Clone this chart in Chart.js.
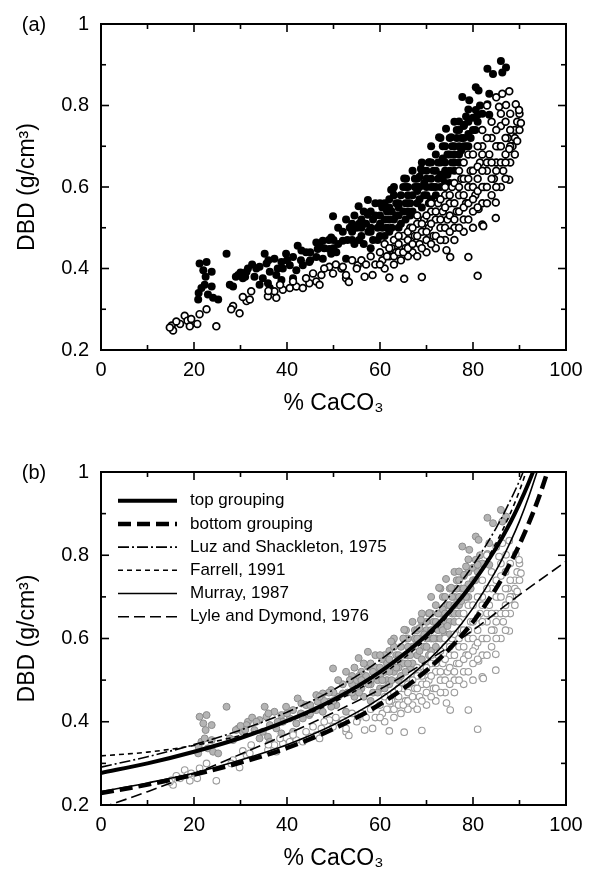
<!DOCTYPE html>
<html>
<head>
<meta charset="utf-8">
<script src="https://cdn.jsdelivr.net/npm/chart.js@4.4.0/dist/chart.umd.min.js"></script>
<style>
  body { margin: 0; background: #fff; }
  #wrap { position: relative; width: 594px; height: 875px; }
  canvas { position: absolute; left: 0; }
</style>
</head>
<body>
<div id="wrap">
  <canvas id="chartA" width="594" height="440" style="top:0"></canvas>
  <canvas id="chartB" width="594" height="435" style="top:440px"></canvas>
</div>
<script>
const fontFamily = '"Liberation Sans", Arial, Helvetica, sans-serif';

// axis ticks
const xTicks = [0, 20, 40, 60, 80, 100];
const xMinor = [10, 30, 50, 70, 90];
const yTicks = [0.2, 0.4, 0.6, 0.8, 1];
const yMinor = [0.3, 0.5, 0.7, 0.9];

// top grouping (filled symbols), [%CaCO3, DBD]
const topGroup = [
  [21.2,0.412],[22.7,0.416],[22.0,0.396],[23.8,0.392],[21.6,0.352],[22.3,0.36],[23.8,0.356],[20.9,0.324],
  [23.0,0.336],[24.1,0.328],[25.2,0.324],[22.5,0.38],[21.0,0.34],
  [27.0,0.436],[27.7,0.36],[28.4,0.356],[29.5,0.384],[30.5,0.376],[31.6,0.4],[31.3,0.392],[29,0.38],[32.5,0.41],
  [35.2,0.436],[34.1,0.404],[35.6,0.412],[36.3,0.392],[37.3,0.424],[38.8,0.416],[39.8,0.436],[41.3,0.428],
  [42.3,0.456],[43.1,0.444],[44.1,0.44],[46.3,0.464],[46.6,0.448],[47.7,0.468],[49.5,0.476],[49.9,0.528],
  [49.1,0.448],[50.6,0.44],[52,0.468],[52.7,0.424],[33.4,0.4],[34.8,0.376],[35.9,0.364],[37.7,0.384],
  [39.1,0.4],[40.6,0.408],[42,0.396],[43.4,0.408],[44.8,0.416],[46.3,0.428],[47.7,0.424],[49.5,0.436],
  [34.1,0.36],[36.3,0.352],[38.8,0.372],[41.3,0.376],
  [52.7,0.52],[55.4,0.553],[57.4,0.568],[57.4,0.532],[62.7,0.593],[65.6,0.62],[65.6,0.60],
  [53,0.47],[54,0.49],[54.5,0.46],[55,0.5],[56,0.48],[56.5,0.46],[57,0.51],[58,0.49],[58.5,0.47],[59,0.53],
  [59.5,0.5],[60,0.48],[60.5,0.55],[61,0.52],[61.5,0.5],[62,0.57],[62.5,0.54],[63,0.52],[63.5,0.56],[64,0.5],
  [64.5,0.58],[65,0.54],[65.5,0.56],[66,0.6],[66.5,0.53],[67,0.58],[67.5,0.62],[68,0.56],[68.5,0.6],[69,0.64],
  [69.5,0.58],[70,0.62],[70.5,0.66],[71,0.6],[71.5,0.64],[72,0.68],[72.5,0.62],[73,0.66],[73.5,0.7],[74,0.64],
  [74.5,0.68],[75,0.72],[75.5,0.66],[76,0.7],[76.5,0.74],[77,0.68],[77.5,0.72],[78,0.75],[79,0.7],[80,0.74],
  [60,0.51],[62,0.49],[64,0.53],[66,0.56],[68,0.59],[70,0.6],[71,0.57],[72,0.6],[73,0.63],[74,0.61],[75,0.64],
  [76,0.66],[77,0.7],[78,0.7],[79,0.73],[67,0.64],[69,0.66],[71,0.7],[73,0.72],[63,0.6],[58,0.54],[56,0.52],
  [54,0.51],[52,0.49],[51,0.46],[50,0.47],[48,0.45],[51,0.5],
  [53.5,0.5],[54.5,0.53],[55.5,0.47],[55.5,0.51],[56.5,0.54],[57.5,0.49],[58,0.45],[58.5,0.52],[59,0.56],
  [59.5,0.47],[60,0.53],[60.5,0.5],[61,0.48],[61,0.56],[61.5,0.54],[62,0.52],[62.5,0.5],[63,0.58],[63.5,0.53],
  [64,0.56],[64.5,0.51],[65,0.6],[65.5,0.52],[66,0.58],[66.5,0.56],[67,0.54],[67.5,0.6],[68,0.62],[68.5,0.57],
  [69,0.55],[69.5,0.61],[70,0.58],[70,0.64],[70.5,0.56],[71,0.62],[71.5,0.6],[72,0.58],[72,0.64],[72.5,0.66],
  [73,0.6],[73.5,0.62],[73.5,0.67],[74,0.66],[74.5,0.63],[75,0.68],[75,0.61],[75.5,0.7],[76,0.64],[76,0.68],
  [76.5,0.72],[77,0.66],[77,0.74],[77.5,0.69],[78,0.72],[78.5,0.7],[79,0.76],[79.5,0.72],[80,0.77],[80.5,0.74],
  [81,0.76],[81.5,0.8],[82,0.78],[79,0.79],[76,0.76],[74,0.7],[71,0.66],[68,0.6],[66,0.54],[64,0.55],[62,0.55],
  [60,0.56],[58,0.5],[56,0.5],[54,0.47],[50,0.45],[49,0.47],[47,0.46],[45,0.44],[45,0.42],[43,0.42],[40,0.42],
  [38,0.4],[36,0.42],[33,0.38],[31,0.38],[30,0.39],
  [70.6,0.661],[68.8,0.645],[65.2,0.621],[62.4,0.593],[68.5,0.625],[74.2,0.743],[72.7,0.722],[75.3,0.722],
  [80.6,0.789],[81.0,0.777],[78.5,0.773],[77.0,0.761],[78.1,0.753],[83.5,0.777],[80.6,0.845],[81.2,0.837],
  [83.5,0.829],[77.7,0.821],[79.2,0.813],[83.1,0.803],[83.1,0.890],[84.3,0.877],[86.0,0.909],[87.1,0.893],[86.3,0.881]
];

// bottom grouping (open symbols)
const bottomGroup = [
  [15.2,0.26],[15.5,0.248],[17.0,0.264],[18.0,0.284],[18.6,0.272],[19.4,0.276],[19.1,0.258],[20.7,0.264],
  [21.2,0.288],[22.7,0.3],[24.8,0.258],[14.8,0.255],[16.2,0.27],
  [28.4,0.308],[28.0,0.3],[29.8,0.29],[31.3,0.32],[32.0,0.324],[32.3,0.344],[30.5,0.33],
  [35.9,0.332],[37.7,0.328],[37.3,0.344],[39.1,0.348],[40.6,0.352],[42,0.356],[43.4,0.352],[44.8,0.364],
  [46.3,0.368],[47,0.36],[41.3,0.368],[44.1,0.376],[45.6,0.388],[47.4,0.384],[49.1,0.404],[49.9,0.388],
  [51.7,0.4],[52.7,0.376],[36,0.345],[38.5,0.36],[48,0.4],[50.5,0.41],
  [52,0.404],[52.7,0.384],[53.3,0.367],[55.2,0.408],[56.7,0.38],[58.4,0.384],[62,0.378],[65.2,0.375],[69,0.379],
  [81,0.382],[74.3,0.445],[75.1,0.428],[79,0.428],[84.9,0.524],[82,0.508],[82.2,0.504],[87.8,0.618],
  [84.9,0.562],[81.2,0.546],
  [54,0.42],[55,0.4],[56,0.42],[57,0.41],[58,0.43],[59,0.41],[60,0.44],[60.5,0.42],[61,0.46],[62,0.43],
  [62.5,0.45],[63,0.47],[63.5,0.44],[64,0.46],[64.5,0.42],[65,0.48],[65.5,0.45],[66,0.47],[66.5,0.5],[67,0.44],
  [67.5,0.48],[68,0.51],[68.5,0.46],[69,0.49],[69.5,0.52],[70,0.47],[70.5,0.5],[71,0.54],[71.5,0.48],[72,0.52],
  [72.5,0.56],[73,0.5],[73.5,0.54],[74,0.58],[74.5,0.52],[75,0.56],[75.5,0.6],[76,0.5],[76.5,0.54],[77,0.58],
  [77.5,0.62],[78,0.52],[78.5,0.56],[79,0.6],[79.5,0.64],[80,0.54],[80.5,0.58],[81,0.62],[81.5,0.66],[82,0.56],
  [82.5,0.6],[83,0.64],[83.5,0.68],[84,0.58],[84.5,0.62],[85,0.66],[85.5,0.7],[86,0.6],[86.5,0.64],[87,0.68],
  [87.5,0.72],[88,0.66],[88.5,0.7],[89,0.74],[89.5,0.76],[84,0.72],[86,0.75],[82,0.7],
  [61,0.4],[63,0.41],[66,0.43],[68,0.43],[70,0.44],[72,0.45],[74,0.47],[76,0.47],[78,0.49],[80,0.5],
  [60,0.41],[61.5,0.43],[62,0.45],[63,0.43],[64,0.44],[64,0.48],[65,0.44],[66,0.45],[66,0.49],[67,0.46],
  [67,0.5],[68,0.48],[68,0.53],[69,0.45],[69,0.51],[70,0.49],[70,0.53],[71,0.46],[71,0.51],[71,0.56],
  [72,0.48],[72,0.54],[73,0.47],[73,0.52],[73,0.57],[74,0.5],[74,0.55],[74,0.6],[75,0.49],[75,0.53],
  [75,0.58],[76,0.52],[76,0.56],[76,0.61],[77,0.5],[77,0.54],[77,0.6],[77,0.64],[78,0.55],[78,0.58],
  [78,0.62],[78,0.66],[79,0.52],[79,0.56],[79,0.62],[79,0.68],[80,0.57],[80,0.6],[80,0.64],[80,0.68],
  [81,0.55],[81,0.59],[81,0.65],[81,0.7],[82,0.6],[82,0.64],[82,0.68],[82,0.74],[83,0.56],[83,0.6],
  [83,0.66],[83,0.72],[84,0.62],[84,0.66],[84,0.76],[85,0.6],[85,0.64],[85,0.7],[85,0.74],[86,0.66],
  [86,0.7],[86,0.78],[87,0.62],[87,0.66],[87,0.72],[87,0.76],[88,0.7],[88,0.74],[88,0.78],[89,0.68],
  [89,0.72],[90,0.74],[90,0.78],[83,0.8],[85,0.82],
  [86.3,0.829],[87.8,0.835],[85.6,0.797],[87.1,0.801],[89.2,0.803],[89.9,0.789],[90.3,0.757],[89.5,0.713],[87.8,0.693]
];

// fitted / published curves
const curveX = [0, 10, 20, 30, 40, 50, 60, 70, 75, 80, 85, 88, 90, 92, 94, 96, 97];
const topFit    = [0.277,0.300,0.328,0.361,0.402,0.453,0.520,0.608,0.665,0.734,0.818,0.878,0.924,0.975,1.031,null,null];
const bottomFit = [0.229,0.249,0.273,0.302,0.337,0.383,0.442,0.523,0.576,0.640,0.721,0.781,0.826,0.877,0.934,1.000,1.036];
const luzFit    = [0.291,0.316,0.345,0.380,0.423,0.477,0.548,0.642,0.702,0.776,0.866,0.931,0.979,1.034,null,null,null];
const farrellFit = [0.318,0.327,0.343,0.367,0.400,0.447,0.510,0.600,0.660,0.735,0.830,0.900,0.955,1.020,null,null,null];
const murrayFit = [0.232,0.253,0.277,0.308,0.345,0.393,0.456,0.544,0.601,0.673,0.764,0.831,0.882,0.941,1.008,null,null];
const lyleX = [0, 10, 20, 30, 40, 50, 60, 70, 80, 90, 100];
const lyleFit = [0.193,0.232,0.275,0.322,0.370,0.422,0.478,0.545,0.620,0.705,0.785];

const pairs = (xs, ys) => xs.map((x, i) => ({ x: x, y: ys[i] }));

// box, inward ticks on all four sides, panel letter
const framePlugin = {
  id: 'frame',
  afterDraw(chart, args, opts) {
    const { ctx, chartArea: a, scales: { x, y } } = chart;
    ctx.save();
    ctx.strokeStyle = '#000';
    ctx.lineWidth = 2;
    ctx.strokeRect(a.left, a.top, a.right - a.left, a.bottom - a.top);
    ctx.lineWidth = 1.6;
    const seg = (x0, y0, x1, y1) => { ctx.beginPath(); ctx.moveTo(x0, y0); ctx.lineTo(x1, y1); ctx.stroke(); };
    xTicks.concat(xMinor).forEach(v => {
      const px = x.getPixelForValue(v);
      const len = xTicks.includes(v) ? 8 : 5;
      seg(px, a.bottom, px, a.bottom - len);
      seg(px, a.top, px, a.top + len);
    });
    yTicks.concat(yMinor).forEach(v => {
      const py = y.getPixelForValue(v);
      const len = yTicks.includes(v) ? 8 : 5;
      seg(a.left, py, a.left + len, py);
      seg(a.right, py, a.right - len, py);
    });
    ctx.fillStyle = '#000';
    ctx.font = '20px ' + fontFamily;
    ctx.textAlign = 'center';
    ctx.textBaseline = 'middle';
    ctx.fillText(opts.label, 34, a.top + 1);
    ctx.restore();
  }
};

// legend drawn inside the plot of panel (b)
const insideLegend = {
  id: 'insideLegend',
  afterDraw(chart, args, opts) {
    if (!opts.show) return;
    const { ctx } = chart;
    ctx.save();
    ctx.font = '17px ' + fontFamily;
    ctx.textBaseline = 'middle';
    ctx.textAlign = 'left';
    ctx.fillStyle = '#000';
    let row = 0;
    chart.data.datasets.forEach(ds => {
      if (!ds.showLine) return;
      const yy = opts.top + row * opts.step;
      ctx.strokeStyle = ds.borderColor;
      ctx.lineWidth = ds.borderWidth;
      ctx.setLineDash(ds.borderDash || []);
      ctx.beginPath();
      ctx.moveTo(opts.x0, yy);
      ctx.lineTo(opts.x1, yy);
      ctx.stroke();
      ctx.setLineDash([]);
      ctx.fillText(ds.label, opts.textX, yy);
      row++;
    });
    ctx.restore();
  }
};

function makeOptions(cfg) {
  return {
    responsive: false,
    animation: false,
    devicePixelRatio: 1,
    layout: { padding: { top: cfg.top, right: 28, left: 0, bottom: 0 } },
    scales: {
      x: {
        type: 'linear', min: 0, max: 100,
        afterBuildTicks: s => { s.ticks = xTicks.map(v => ({ value: v })); },
        afterFit: s => { s.height = cfg.xHeight; },
        grid: { display: false, drawTicks: false },
        border: { display: false },
        ticks: { color: '#000', autoSkip: false, maxRotation: 0, padding: 8,
                 font: { family: fontFamily, size: 20 } },
        title: { display: true, text: '% CaCO₃', color: '#000',
                 font: { family: fontFamily, size: 23 }, padding: { top: 0, bottom: cfg.titlePad } }
      },
      y: {
        type: 'linear', min: 0.2, max: 1,
        afterBuildTicks: s => { s.ticks = yTicks.map(v => ({ value: v })); },
        afterFit: s => { s.width = 101; },
        grid: { display: false, drawTicks: false },
        border: { display: false },
        ticks: { color: '#000', autoSkip: false, padding: 12,
                 font: { family: fontFamily, size: 20 }, callback: v => String(v) },
        title: { display: true, text: 'DBD (g/cm³)', color: '#000',
                 font: { family: fontFamily, size: 23 }, padding: { top: 14, bottom: 0 } }
      }
    },
    plugins: {
      legend: { display: false },
      tooltip: { enabled: false },
      frame: { label: cfg.label },
      insideLegend: cfg.legend
    }
  };
}

// (a) raw data
new Chart(document.getElementById('chartA'), {
  type: 'scatter',
  data: {
    datasets: [
      {
        label: 'bottom grouping',
        data: bottomGroup,
        pointRadius: 3.4,
        pointBorderWidth: 1.7,
        borderColor: '#000',
        backgroundColor: '#fff'
      },
      {
        label: 'top grouping',
        data: topGroup,
        pointRadius: 4,
        pointBorderWidth: 0,
        borderColor: '#000',
        backgroundColor: '#000'
      }
    ]
  },
  options: makeOptions({ top: 17, xHeight: 90, titlePad: 23, label: '(a)', legend: { show: false } }),
  plugins: [framePlugin, insideLegend]
});

// (b) data in grey with the published relations
const lineBase = { showLine: true, pointRadius: 0, borderColor: '#000', fill: false, clip: 0,
                   cubicInterpolationMode: 'monotone' };

new Chart(document.getElementById('chartB'), {
  type: 'scatter',
  data: {
    datasets: [
      Object.assign({}, lineBase, { label: 'top grouping', data: pairs(curveX, topFit), borderWidth: 4 }),
      Object.assign({}, lineBase, { label: 'bottom grouping', data: pairs(curveX, bottomFit), borderWidth: 4.5, borderDash: [13, 6] }),
      Object.assign({}, lineBase, { label: 'Luz and Shackleton, 1975', data: pairs(curveX, luzFit), borderWidth: 1.6, borderDash: [11, 3, 2, 3] }),
      Object.assign({}, lineBase, { label: 'Farrell, 1991', data: pairs(curveX, farrellFit), borderWidth: 1.6, borderDash: [5, 4] }),
      Object.assign({}, lineBase, { label: 'Murray, 1987', data: pairs(curveX, murrayFit), borderWidth: 1.6 }),
      Object.assign({}, lineBase, { label: 'Lyle and Dymond, 1976', data: pairs(lyleX, lyleFit), borderWidth: 1.6, borderDash: [11, 5] }),
      {
        label: 'bottom data',
        data: bottomGroup,
        pointRadius: 3.3,
        pointBorderWidth: 1.1,
        borderColor: '#9a9a9a',
        backgroundColor: '#fff'
      },
      {
        label: 'top data',
        data: topGroup,
        pointRadius: 3.5,
        pointBorderWidth: 1,
        borderColor: '#8c8c8c',
        backgroundColor: '#b4b4b4'
      }
    ]
  },
  options: makeOptions({ top: 32, xHeight: 70, titlePad: 3, label: '(b)',
                         legend: { show: true, x0: 118, x1: 177, textX: 190, top: 60.7, step: 23.2 } }),
  plugins: [framePlugin, insideLegend]
});
</script>
</body>
</html>
